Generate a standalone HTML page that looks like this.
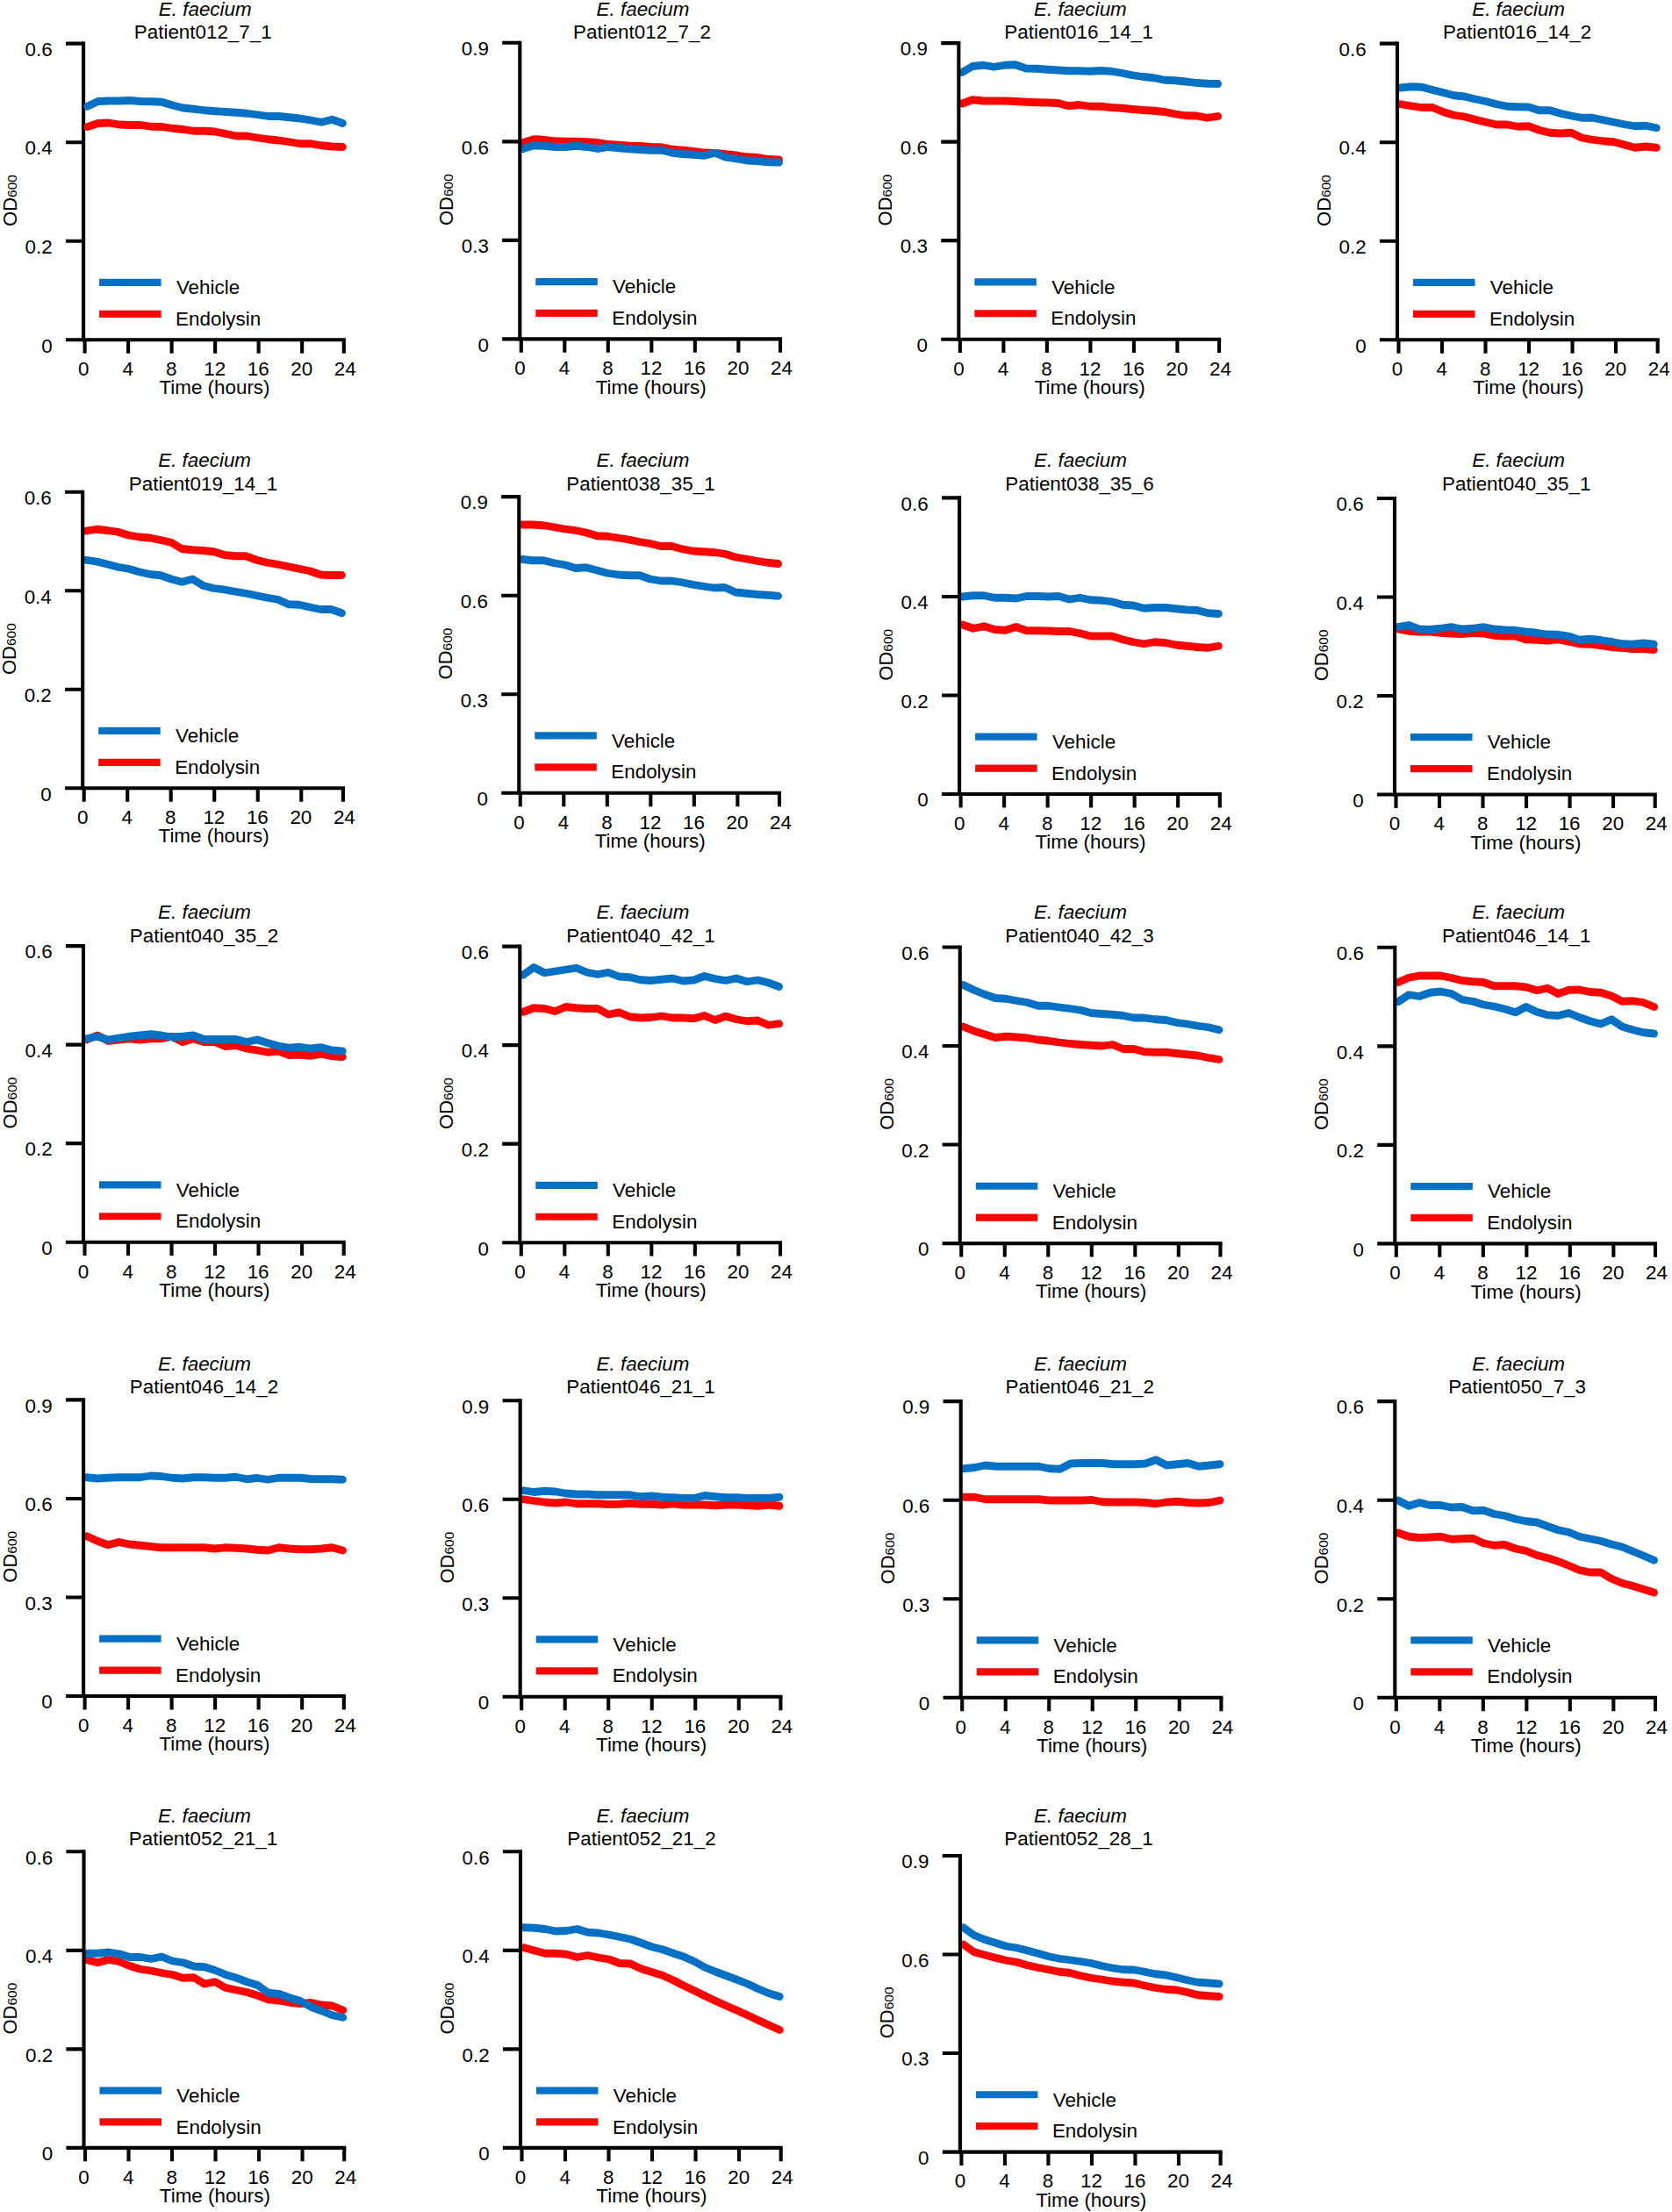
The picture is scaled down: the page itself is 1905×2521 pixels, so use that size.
<!DOCTYPE html>
<html lang="en"><head><meta charset="utf-8"><title>E. faecium growth curves</title>
<style>html,body{margin:0;padding:0;background:#fff}svg{display:block}text{white-space:pre}</style></head>
<body>
<svg width="1905" height="2521" viewBox="0 0 1905 2521" font-family="&quot;Liberation Sans&quot;, Arial, Helvetica, sans-serif" font-size="22.4" fill="#000">
<g>
<text x="233.75" y="17.5" text-anchor="middle" font-style="italic">E. faecium</text>
<text x="231.25" y="43.9" text-anchor="middle">Patient012_7_1</text>
<path d="M95.1 47.6V389.3" stroke="#000" stroke-width="4.1" fill="none"/>
<path d="M75 387.25H393.85" stroke="#000" stroke-width="4.1" fill="none"/>
<path d="M75 49.65H95.1M75 162.18H95.1M75 274.72H95.1M96.6 387.25V402.65M146.11 387.25V402.65M195.62 387.25V402.65M245.13 387.25V402.65M294.64 387.25V402.65M344.15 387.25V402.65M391.8 387.25V402.65" stroke="#000" stroke-width="4.1" fill="none"/>
<path d="M99.6 144.5 L111.72 140.5 L123.83 140 L135.95 142 L148.07 142.5 L160.18 142.5 L172.3 144.25 L184.42 144.5 L196.53 146.25 L208.65 147.5 L220.77 149.25 L232.88 149.25 L245 150 L257.12 152.5 L269.23 155 L281.35 155 L293.47 157 L305.58 158.75 L317.7 160 L329.82 161.75 L341.93 163.75 L354.05 163.75 L366.17 165.75 L378.28 167 L390.4 167.5" fill="none" stroke="#fb0404" stroke-width="8.8" stroke-linecap="round" stroke-linejoin="round"/>
<path d="M99.6 121.25 L111.72 115.5 L123.83 115 L135.95 115 L148.07 114.5 L160.18 115.5 L172.3 115.75 L184.42 116.25 L196.53 120 L208.65 123 L220.77 124.25 L232.88 125.75 L245 126.75 L257.12 127.5 L269.23 128.25 L281.35 129.25 L293.47 130.75 L305.58 132.5 L317.7 132.5 L329.82 133.75 L341.93 135 L354.05 137 L366.17 139.25 L378.28 136.25 L390.4 140.5" fill="none" stroke="#0570c4" stroke-width="8.8" stroke-linecap="round" stroke-linejoin="round"/>
<text x="59.7" y="63.95" text-anchor="end">0.6</text>
<text x="59.7" y="176.48" text-anchor="end">0.4</text>
<text x="59.7" y="289.02" text-anchor="end">0.2</text>
<text x="59.7" y="401.55" text-anchor="end">0</text>
<text x="95.2" y="428.05" text-anchor="middle">0</text>
<text x="145.71" y="428.05" text-anchor="middle">4</text>
<text x="195.22" y="428.05" text-anchor="middle">8</text>
<text x="244.73" y="428.05" text-anchor="middle">12</text>
<text x="294.24" y="428.05" text-anchor="middle">16</text>
<text x="343.75" y="428.05" text-anchor="middle">20</text>
<text x="393.26" y="428.05" text-anchor="middle">24</text>
<text x="244.5" y="449.35" text-anchor="middle">Time (hours)</text>
<text transform="translate(18.9 257.95) rotate(-90)" font-size="22">OD<tspan font-size="15.5">600</tspan></text>
<path d="M113.1 321.9H183.6" stroke="#0570c4" stroke-width="8.2" fill="none"/>
<path d="M113.1 357.8H183.6" stroke="#fb0404" stroke-width="8.2" fill="none"/>
<text x="200.9" y="335.15">Vehicle</text>
<text x="200.1" y="370.85">Endolysin</text>
</g>
<g>
<text x="732.5" y="17.5" text-anchor="middle" font-style="italic">E. faecium</text>
<text x="731.5" y="43.9" text-anchor="middle">Patient012_7_2</text>
<path d="M596 162.5 L608.15 158.75 L620.3 159.25 L632.45 160.75 L644.6 161.25 L656.75 161.25 L668.9 161.75 L681.05 162.5 L693.2 164.5 L705.35 165.25 L717.5 166.25 L729.65 166.5 L741.8 167.5 L753.95 167.75 L766.1 170.25 L778.25 171.25 L790.4 172.5 L802.55 174 L814.7 174.5 L826.85 175.75 L839 177 L851.15 178.75 L863.3 179.5 L875.45 181.5 L887.6 182" fill="none" stroke="#fb0404" stroke-width="8.8" stroke-linecap="round" stroke-linejoin="round"/>
<path d="M596 169.5 L608.15 165.75 L620.3 166.25 L632.45 167.5 L644.6 167.5 L656.75 166.25 L668.9 167.5 L681.05 169.5 L693.2 167.5 L705.35 168.75 L717.5 169.75 L729.65 170.5 L741.8 171.25 L753.95 171.25 L766.1 174.25 L778.25 175.5 L790.4 176.25 L802.55 177.25 L814.7 174.25 L826.85 179.25 L839 181 L851.15 183 L863.3 183.5 L875.45 184.75 L887.6 185" fill="none" stroke="#0570c4" stroke-width="8.8" stroke-linecap="round" stroke-linejoin="round"/>
<path d="M592.3 46.75V388.45" stroke="#000" stroke-width="4.1" fill="none"/>
<path d="M572.2 386.4H891.05" stroke="#000" stroke-width="4.1" fill="none"/>
<path d="M572.2 48.8H592.3M572.2 161.33H592.3M572.2 273.87H592.3M593.8 386.4V401.8M643.31 386.4V401.8M692.82 386.4V401.8M742.33 386.4V401.8M791.84 386.4V401.8M841.35 386.4V401.8M889 386.4V401.8" stroke="#000" stroke-width="4.1" fill="none"/>
<text x="556.9" y="63.1" text-anchor="end">0.9</text>
<text x="556.9" y="175.63" text-anchor="end">0.6</text>
<text x="556.9" y="288.17" text-anchor="end">0.3</text>
<text x="556.9" y="400.7" text-anchor="end">0</text>
<text x="592.4" y="427.2" text-anchor="middle">0</text>
<text x="642.91" y="427.2" text-anchor="middle">4</text>
<text x="692.42" y="427.2" text-anchor="middle">8</text>
<text x="741.93" y="427.2" text-anchor="middle">12</text>
<text x="791.44" y="427.2" text-anchor="middle">16</text>
<text x="840.95" y="427.2" text-anchor="middle">20</text>
<text x="890.46" y="427.2" text-anchor="middle">24</text>
<text x="741.7" y="448.5" text-anchor="middle">Time (hours)</text>
<text transform="translate(516.1 257.1) rotate(-90)" font-size="22">OD<tspan font-size="15.5">600</tspan></text>
<path d="M610.3 321.05H680.8" stroke="#0570c4" stroke-width="8.2" fill="none"/>
<path d="M610.3 356.95H680.8" stroke="#fb0404" stroke-width="8.2" fill="none"/>
<text x="698.1" y="334.3">Vehicle</text>
<text x="697.3" y="370">Endolysin</text>
</g>
<g>
<text x="1230.9" y="17.5" text-anchor="middle" font-style="italic">E. faecium</text>
<text x="1229" y="43.9" text-anchor="middle">Patient016_14_1</text>
<path d="M1096.05 118 L1108.2 113.75 L1120.35 115 L1132.5 115 L1144.65 115 L1156.8 115.5 L1168.95 116.25 L1181.1 116.75 L1193.25 117 L1205.4 117.5 L1217.55 120.75 L1229.7 119.5 L1241.85 121.25 L1254 121.25 L1266.15 122.5 L1278.3 123.25 L1290.45 124.5 L1302.6 125.5 L1314.75 126.25 L1326.9 127.5 L1339.05 130 L1351.2 131.75 L1363.35 132 L1375.5 134.25 L1387.65 132.5" fill="none" stroke="#fb0404" stroke-width="8.8" stroke-linecap="round" stroke-linejoin="round"/>
<path d="M1096.05 82.5 L1108.2 75.5 L1120.35 74.25 L1132.5 76.25 L1144.65 74.25 L1156.8 73.75 L1168.95 78 L1181.1 78.25 L1193.25 79.25 L1205.4 80 L1217.55 80.75 L1229.7 80.75 L1241.85 81.25 L1254 80.5 L1266.15 81.25 L1278.3 83.25 L1290.45 85.75 L1302.6 87.5 L1314.75 88.75 L1326.9 91.25 L1339.05 91.75 L1351.2 93 L1363.35 94.5 L1375.5 95.25 L1387.65 95.5" fill="none" stroke="#0570c4" stroke-width="8.8" stroke-linecap="round" stroke-linejoin="round"/>
<path d="M1092.35 47.05V388.75" stroke="#000" stroke-width="4.1" fill="none"/>
<path d="M1072.25 386.7H1391.1" stroke="#000" stroke-width="4.1" fill="none"/>
<path d="M1072.25 49.1H1092.35M1072.25 161.63H1092.35M1072.25 274.17H1092.35M1093.85 386.7V402.1M1143.36 386.7V402.1M1192.87 386.7V402.1M1242.38 386.7V402.1M1291.89 386.7V402.1M1341.4 386.7V402.1M1389.05 386.7V402.1" stroke="#000" stroke-width="4.1" fill="none"/>
<text x="1056.95" y="63.4" text-anchor="end">0.9</text>
<text x="1056.95" y="175.93" text-anchor="end">0.6</text>
<text x="1056.95" y="288.47" text-anchor="end">0.3</text>
<text x="1056.95" y="401" text-anchor="end">0</text>
<text x="1092.45" y="427.5" text-anchor="middle">0</text>
<text x="1142.96" y="427.5" text-anchor="middle">4</text>
<text x="1192.47" y="427.5" text-anchor="middle">8</text>
<text x="1241.98" y="427.5" text-anchor="middle">12</text>
<text x="1291.49" y="427.5" text-anchor="middle">16</text>
<text x="1341" y="427.5" text-anchor="middle">20</text>
<text x="1390.51" y="427.5" text-anchor="middle">24</text>
<text x="1241.75" y="448.8" text-anchor="middle">Time (hours)</text>
<text transform="translate(1016.15 257.4) rotate(-90)" font-size="22">OD<tspan font-size="15.5">600</tspan></text>
<path d="M1110.35 321.35H1180.85" stroke="#0570c4" stroke-width="8.2" fill="none"/>
<path d="M1110.35 357.25H1180.85" stroke="#fb0404" stroke-width="8.2" fill="none"/>
<text x="1198.15" y="334.6">Vehicle</text>
<text x="1197.35" y="370.3">Endolysin</text>
</g>
<g>
<text x="1730.1" y="17.5" text-anchor="middle" font-style="italic">E. faecium</text>
<text x="1728.6" y="43.9" text-anchor="middle">Patient016_14_2</text>
<path d="M1595.7 118.75 L1607.85 120.75 L1620 122.5 L1632.15 122.5 L1644.3 127.5 L1656.45 131.25 L1668.6 133 L1680.75 136.25 L1692.9 139.25 L1705.05 142 L1717.2 142 L1729.35 144.25 L1741.5 143.75 L1753.65 148.25 L1765.8 151.25 L1777.95 152 L1790.1 151.25 L1802.25 157 L1814.4 159.25 L1826.55 160.75 L1838.7 161.75 L1850.85 165 L1863 168.25 L1875.15 167 L1887.3 168.25" fill="none" stroke="#fb0404" stroke-width="8.8" stroke-linecap="round" stroke-linejoin="round"/>
<path d="M1595.7 100 L1607.85 98.75 L1620 99.25 L1632.15 102.5 L1644.3 105.5 L1656.45 108.75 L1668.6 110 L1680.75 113 L1692.9 115.5 L1705.05 118.75 L1717.2 121.25 L1729.35 121.75 L1741.5 122 L1753.65 125.75 L1765.8 125.75 L1777.95 129.25 L1790.1 132 L1802.25 134.25 L1814.4 134.25 L1826.55 136.75 L1838.7 139.25 L1850.85 141.75 L1863 143.75 L1875.15 143.25 L1887.3 145.75" fill="none" stroke="#0570c4" stroke-width="8.8" stroke-linecap="round" stroke-linejoin="round"/>
<path d="M1592 47.6V389.3" stroke="#000" stroke-width="4.1" fill="none"/>
<path d="M1571.9 387.25H1890.75" stroke="#000" stroke-width="4.1" fill="none"/>
<path d="M1571.9 49.65H1592M1571.9 162.18H1592M1571.9 274.72H1592M1593.5 387.25V402.65M1643.01 387.25V402.65M1692.52 387.25V402.65M1742.03 387.25V402.65M1791.54 387.25V402.65M1841.05 387.25V402.65M1888.7 387.25V402.65" stroke="#000" stroke-width="4.1" fill="none"/>
<text x="1556.6" y="63.95" text-anchor="end">0.6</text>
<text x="1556.6" y="176.48" text-anchor="end">0.4</text>
<text x="1556.6" y="289.02" text-anchor="end">0.2</text>
<text x="1556.6" y="401.55" text-anchor="end">0</text>
<text x="1592.1" y="428.05" text-anchor="middle">0</text>
<text x="1642.61" y="428.05" text-anchor="middle">4</text>
<text x="1692.12" y="428.05" text-anchor="middle">8</text>
<text x="1741.63" y="428.05" text-anchor="middle">12</text>
<text x="1791.14" y="428.05" text-anchor="middle">16</text>
<text x="1840.65" y="428.05" text-anchor="middle">20</text>
<text x="1890.16" y="428.05" text-anchor="middle">24</text>
<text x="1741.4" y="449.35" text-anchor="middle">Time (hours)</text>
<text transform="translate(1515.8 257.95) rotate(-90)" font-size="22">OD<tspan font-size="15.5">600</tspan></text>
<path d="M1610 321.9H1680.5" stroke="#0570c4" stroke-width="8.2" fill="none"/>
<path d="M1610 357.8H1680.5" stroke="#fb0404" stroke-width="8.2" fill="none"/>
<text x="1697.8" y="335.15">Vehicle</text>
<text x="1697" y="370.85">Endolysin</text>
</g>
<g>
<text x="233.1" y="532.4" text-anchor="middle" font-style="italic">E. faecium</text>
<text x="231.5" y="558.8" text-anchor="middle">Patient019_14_1</text>
<path d="M97.9 605 L110.05 603.25 L122.2 604.5 L134.35 606.25 L146.5 610 L158.65 612 L170.8 613 L182.95 615.5 L195.1 618.25 L207.25 625.5 L219.4 626.75 L231.55 627.5 L243.7 628.75 L255.85 632.5 L268 633.75 L280.15 633.75 L292.3 638.25 L304.45 641.25 L316.6 643.25 L328.75 645.75 L340.9 648.25 L353.05 650.75 L365.2 655 L377.35 655.5 L389.5 655.5" fill="none" stroke="#fb0404" stroke-width="8.8" stroke-linecap="round" stroke-linejoin="round"/>
<path d="M97.9 638.25 L110.05 640 L122.2 643 L134.35 646.25 L146.5 648.25 L158.65 651.75 L170.8 654.5 L182.95 655.75 L195.1 660 L207.25 663.25 L219.4 660 L231.55 667.5 L243.7 670.5 L255.85 672 L268 674.25 L280.15 676.25 L292.3 678.75 L304.45 681.25 L316.6 683.25 L328.75 688.75 L340.9 689.25 L353.05 692 L365.2 694.5 L377.35 694.5 L389.5 698.75" fill="none" stroke="#0570c4" stroke-width="8.8" stroke-linecap="round" stroke-linejoin="round"/>
<path d="M94.2 558.65V900.35" stroke="#000" stroke-width="4.1" fill="none"/>
<path d="M74.1 898.3H392.95" stroke="#000" stroke-width="4.1" fill="none"/>
<path d="M74.1 560.7H94.2M74.1 673.23H94.2M74.1 785.77H94.2M95.7 898.3V913.7M145.21 898.3V913.7M194.72 898.3V913.7M244.23 898.3V913.7M293.74 898.3V913.7M343.25 898.3V913.7M390.9 898.3V913.7" stroke="#000" stroke-width="4.1" fill="none"/>
<text x="58.8" y="575" text-anchor="end">0.6</text>
<text x="58.8" y="687.53" text-anchor="end">0.4</text>
<text x="58.8" y="800.07" text-anchor="end">0.2</text>
<text x="58.8" y="912.6" text-anchor="end">0</text>
<text x="94.3" y="939.1" text-anchor="middle">0</text>
<text x="144.81" y="939.1" text-anchor="middle">4</text>
<text x="194.32" y="939.1" text-anchor="middle">8</text>
<text x="243.83" y="939.1" text-anchor="middle">12</text>
<text x="293.34" y="939.1" text-anchor="middle">16</text>
<text x="342.85" y="939.1" text-anchor="middle">20</text>
<text x="392.36" y="939.1" text-anchor="middle">24</text>
<text x="243.6" y="960.4" text-anchor="middle">Time (hours)</text>
<text transform="translate(18 769) rotate(-90)" font-size="22">OD<tspan font-size="15.5">600</tspan></text>
<path d="M112.2 832.95H182.7" stroke="#0570c4" stroke-width="8.2" fill="none"/>
<path d="M112.2 868.85H182.7" stroke="#fb0404" stroke-width="8.2" fill="none"/>
<text x="200" y="846.2">Vehicle</text>
<text x="199.2" y="881.9">Endolysin</text>
</g>
<g>
<text x="732.5" y="532.4" text-anchor="middle" font-style="italic">E. faecium</text>
<text x="730" y="558.8" text-anchor="middle">Patient038_35_1</text>
<path d="M595 598 L607.15 598 L619.3 598.75 L631.45 600.75 L643.6 603 L655.75 604.5 L667.9 607 L680.05 610.75 L692.2 611.25 L704.35 613 L716.5 615 L728.65 617.5 L740.8 619.5 L752.95 622.5 L765.1 622.5 L777.25 625.75 L789.4 628 L801.55 628.75 L813.7 629.5 L825.85 631.25 L838 635 L850.15 637 L862.3 639.25 L874.45 641.25 L886.6 642.5" fill="none" stroke="#fb0404" stroke-width="8.8" stroke-linecap="round" stroke-linejoin="round"/>
<path d="M595 637.5 L607.15 638.75 L619.3 638.75 L631.45 641.75 L643.6 643.75 L655.75 647.5 L667.9 646.75 L680.05 650 L692.2 653.25 L704.35 655 L716.5 655.75 L728.65 655.75 L740.8 660 L752.95 662 L765.1 662 L777.25 663.75 L789.4 666.25 L801.55 668.25 L813.7 670 L825.85 669.5 L838 675 L850.15 676.25 L862.3 677.5 L874.45 678.25 L886.6 679.25" fill="none" stroke="#0570c4" stroke-width="8.8" stroke-linecap="round" stroke-linejoin="round"/>
<path d="M591.3 564.1V905.8" stroke="#000" stroke-width="4.1" fill="none"/>
<path d="M571.2 903.75H890.05" stroke="#000" stroke-width="4.1" fill="none"/>
<path d="M571.2 566.15H591.3M571.2 678.68H591.3M571.2 791.22H591.3M592.8 903.75V919.15M642.31 903.75V919.15M691.82 903.75V919.15M741.33 903.75V919.15M790.84 903.75V919.15M840.35 903.75V919.15M888 903.75V919.15" stroke="#000" stroke-width="4.1" fill="none"/>
<text x="555.9" y="580.45" text-anchor="end">0.9</text>
<text x="555.9" y="692.98" text-anchor="end">0.6</text>
<text x="555.9" y="805.52" text-anchor="end">0.3</text>
<text x="555.9" y="918.05" text-anchor="end">0</text>
<text x="591.4" y="944.55" text-anchor="middle">0</text>
<text x="641.91" y="944.55" text-anchor="middle">4</text>
<text x="691.42" y="944.55" text-anchor="middle">8</text>
<text x="740.93" y="944.55" text-anchor="middle">12</text>
<text x="790.44" y="944.55" text-anchor="middle">16</text>
<text x="839.95" y="944.55" text-anchor="middle">20</text>
<text x="889.46" y="944.55" text-anchor="middle">24</text>
<text x="740.7" y="965.85" text-anchor="middle">Time (hours)</text>
<text transform="translate(515.1 774.45) rotate(-90)" font-size="22">OD<tspan font-size="15.5">600</tspan></text>
<path d="M609.3 838.4H679.8" stroke="#0570c4" stroke-width="8.2" fill="none"/>
<path d="M609.3 874.3H679.8" stroke="#fb0404" stroke-width="8.2" fill="none"/>
<text x="697.1" y="851.65">Vehicle</text>
<text x="696.3" y="887.35">Endolysin</text>
</g>
<g>
<text x="1231" y="532.4" text-anchor="middle" font-style="italic">E. faecium</text>
<text x="1230" y="558.8" text-anchor="middle">Patient038_35_6</text>
<path d="M1096.8 712 L1108.95 716.25 L1121.1 713.75 L1133.25 717.5 L1145.4 718.25 L1157.55 714.5 L1169.7 718.75 L1181.85 718.75 L1194 719 L1206.15 719.5 L1218.3 719.5 L1230.45 721.75 L1242.6 725 L1254.75 725 L1266.9 725 L1279.05 728.75 L1291.2 731.75 L1303.35 733.75 L1315.5 731.75 L1327.65 732.5 L1339.8 735 L1351.95 736.25 L1364.1 737.5 L1376.25 738.25 L1388.4 736.25" fill="none" stroke="#fb0404" stroke-width="8.8" stroke-linecap="round" stroke-linejoin="round"/>
<path d="M1096.8 680 L1108.95 678.75 L1121.1 678.75 L1133.25 681.25 L1145.4 681.25 L1157.55 682 L1169.7 679.5 L1181.85 679.5 L1194 680 L1206.15 679.5 L1218.3 683 L1230.45 681.25 L1242.6 683.75 L1254.75 684.25 L1266.9 685.75 L1279.05 689.25 L1291.2 690 L1303.35 693.25 L1315.5 692.5 L1327.65 692.5 L1339.8 693.75 L1351.95 695 L1364.1 695.5 L1376.25 698.75 L1388.4 699.5" fill="none" stroke="#0570c4" stroke-width="8.8" stroke-linecap="round" stroke-linejoin="round"/>
<path d="M1093.1 565.35V907.05" stroke="#000" stroke-width="4.1" fill="none"/>
<path d="M1073 905H1391.85" stroke="#000" stroke-width="4.1" fill="none"/>
<path d="M1073 567.4H1093.1M1073 679.93H1093.1M1073 792.47H1093.1M1094.6 905V920.4M1144.11 905V920.4M1193.62 905V920.4M1243.13 905V920.4M1292.64 905V920.4M1342.15 905V920.4M1389.8 905V920.4" stroke="#000" stroke-width="4.1" fill="none"/>
<text x="1057.7" y="581.7" text-anchor="end">0.6</text>
<text x="1057.7" y="694.23" text-anchor="end">0.4</text>
<text x="1057.7" y="806.77" text-anchor="end">0.2</text>
<text x="1057.7" y="919.3" text-anchor="end">0</text>
<text x="1093.2" y="945.8" text-anchor="middle">0</text>
<text x="1143.71" y="945.8" text-anchor="middle">4</text>
<text x="1193.22" y="945.8" text-anchor="middle">8</text>
<text x="1242.73" y="945.8" text-anchor="middle">12</text>
<text x="1292.24" y="945.8" text-anchor="middle">16</text>
<text x="1341.75" y="945.8" text-anchor="middle">20</text>
<text x="1391.26" y="945.8" text-anchor="middle">24</text>
<text x="1242.5" y="967.1" text-anchor="middle">Time (hours)</text>
<text transform="translate(1016.9 775.7) rotate(-90)" font-size="22">OD<tspan font-size="15.5">600</tspan></text>
<path d="M1111.1 839.65H1181.6" stroke="#0570c4" stroke-width="8.2" fill="none"/>
<path d="M1111.1 875.55H1181.6" stroke="#fb0404" stroke-width="8.2" fill="none"/>
<text x="1198.9" y="852.9">Vehicle</text>
<text x="1198.1" y="888.6">Endolysin</text>
</g>
<g>
<text x="1730.1" y="532.4" text-anchor="middle" font-style="italic">E. faecium</text>
<text x="1727.75" y="558.8" text-anchor="middle">Patient040_35_1</text>
<path d="M1592.7 717 L1604.85 719.25 L1617 720 L1629.15 720 L1641.3 721.25 L1653.45 722 L1665.6 722.5 L1677.75 721.25 L1689.9 722 L1702.05 724.25 L1714.2 725 L1726.35 725 L1738.5 728.75 L1750.65 729.25 L1762.8 730 L1774.95 728.75 L1787.1 731.25 L1799.25 733.75 L1811.4 734.25 L1823.55 735.75 L1835.7 737.5 L1847.85 738.25 L1860 739.5 L1872.15 739.25 L1884.3 740.5" fill="none" stroke="#fb0404" stroke-width="8.8" stroke-linecap="round" stroke-linejoin="round"/>
<path d="M1592.7 714.5 L1604.85 712.5 L1617 717 L1629.15 717.5 L1641.3 716.25 L1653.45 714.5 L1665.6 717 L1677.75 716.25 L1689.9 714.5 L1702.05 717 L1714.2 718 L1726.35 718.25 L1738.5 720 L1750.65 721.25 L1762.8 723 L1774.95 723.25 L1787.1 725 L1799.25 729.25 L1811.4 728.25 L1823.55 729.5 L1835.7 731.25 L1847.85 733.75 L1860 734.25 L1872.15 733 L1884.3 734.25" fill="none" stroke="#0570c4" stroke-width="8.8" stroke-linecap="round" stroke-linejoin="round"/>
<path d="M1589 565.9V907.6" stroke="#000" stroke-width="4.1" fill="none"/>
<path d="M1568.9 905.55H1887.75" stroke="#000" stroke-width="4.1" fill="none"/>
<path d="M1568.9 567.95H1589M1568.9 680.48H1589M1568.9 793.02H1589M1590.5 905.55V920.95M1640.01 905.55V920.95M1689.52 905.55V920.95M1739.03 905.55V920.95M1788.54 905.55V920.95M1838.05 905.55V920.95M1885.7 905.55V920.95" stroke="#000" stroke-width="4.1" fill="none"/>
<text x="1553.6" y="582.25" text-anchor="end">0.6</text>
<text x="1553.6" y="694.78" text-anchor="end">0.4</text>
<text x="1553.6" y="807.32" text-anchor="end">0.2</text>
<text x="1553.6" y="919.85" text-anchor="end">0</text>
<text x="1589.1" y="946.35" text-anchor="middle">0</text>
<text x="1639.61" y="946.35" text-anchor="middle">4</text>
<text x="1689.12" y="946.35" text-anchor="middle">8</text>
<text x="1738.63" y="946.35" text-anchor="middle">12</text>
<text x="1788.14" y="946.35" text-anchor="middle">16</text>
<text x="1837.65" y="946.35" text-anchor="middle">20</text>
<text x="1887.16" y="946.35" text-anchor="middle">24</text>
<text x="1738.4" y="967.65" text-anchor="middle">Time (hours)</text>
<text transform="translate(1512.8 776.25) rotate(-90)" font-size="22">OD<tspan font-size="15.5">600</tspan></text>
<path d="M1607 840.2H1677.5" stroke="#0570c4" stroke-width="8.2" fill="none"/>
<path d="M1607 876.1H1677.5" stroke="#fb0404" stroke-width="8.2" fill="none"/>
<text x="1694.8" y="853.45">Vehicle</text>
<text x="1694" y="889.15">Endolysin</text>
</g>
<g>
<text x="233" y="1047.3" text-anchor="middle" font-style="italic">E. faecium</text>
<text x="232.5" y="1073.7" text-anchor="middle">Patient040_35_2</text>
<path d="M98.7 1185 L110.85 1180 L123 1186.25 L135.15 1185 L147.3 1183.75 L159.45 1185 L171.6 1183.75 L183.75 1183.75 L195.9 1181.25 L208.05 1187.5 L220.2 1183.75 L232.35 1187.5 L244.5 1187.5 L256.65 1192.5 L268.8 1191.25 L280.95 1195 L293.1 1197 L305.25 1199.25 L317.4 1198 L329.55 1202.5 L341.7 1202 L353.85 1203.25 L366 1201.25 L378.15 1203.75 L390.3 1204.5" fill="none" stroke="#fb0404" stroke-width="8.8" stroke-linecap="round" stroke-linejoin="round"/>
<path d="M98.7 1183.75 L110.85 1181.25 L123 1185 L135.15 1183 L147.3 1181.25 L159.45 1180 L171.6 1178.75 L183.75 1180 L195.9 1182 L208.05 1181.25 L220.2 1180 L232.35 1184.5 L244.5 1184.5 L256.65 1184.5 L268.8 1184.5 L280.95 1187.5 L293.1 1185 L305.25 1188.75 L317.4 1192 L329.55 1194.25 L341.7 1193.25 L353.85 1195 L366 1193.75 L378.15 1197 L390.3 1198" fill="none" stroke="#0570c4" stroke-width="8.8" stroke-linecap="round" stroke-linejoin="round"/>
<path d="M95 1076.05V1417.75" stroke="#000" stroke-width="4.1" fill="none"/>
<path d="M74.9 1415.7H393.75" stroke="#000" stroke-width="4.1" fill="none"/>
<path d="M74.9 1078.1H95M74.9 1190.63H95M74.9 1303.17H95M96.5 1415.7V1431.1M146.01 1415.7V1431.1M195.52 1415.7V1431.1M245.03 1415.7V1431.1M294.54 1415.7V1431.1M344.05 1415.7V1431.1M391.7 1415.7V1431.1" stroke="#000" stroke-width="4.1" fill="none"/>
<text x="59.6" y="1092.4" text-anchor="end">0.6</text>
<text x="59.6" y="1204.93" text-anchor="end">0.4</text>
<text x="59.6" y="1317.47" text-anchor="end">0.2</text>
<text x="59.6" y="1430" text-anchor="end">0</text>
<text x="95.1" y="1456.5" text-anchor="middle">0</text>
<text x="145.61" y="1456.5" text-anchor="middle">4</text>
<text x="195.12" y="1456.5" text-anchor="middle">8</text>
<text x="244.63" y="1456.5" text-anchor="middle">12</text>
<text x="294.14" y="1456.5" text-anchor="middle">16</text>
<text x="343.65" y="1456.5" text-anchor="middle">20</text>
<text x="393.16" y="1456.5" text-anchor="middle">24</text>
<text x="244.4" y="1477.8" text-anchor="middle">Time (hours)</text>
<text transform="translate(18.8 1286.4) rotate(-90)" font-size="22">OD<tspan font-size="15.5">600</tspan></text>
<path d="M113 1350.35H183.5" stroke="#0570c4" stroke-width="8.2" fill="none"/>
<path d="M113 1386.25H183.5" stroke="#fb0404" stroke-width="8.2" fill="none"/>
<text x="200.8" y="1363.6">Vehicle</text>
<text x="200" y="1399.3">Endolysin</text>
</g>
<g>
<text x="732.5" y="1047.3" text-anchor="middle" font-style="italic">E. faecium</text>
<text x="730" y="1073.7" text-anchor="middle">Patient040_42_1</text>
<path d="M596 1153.25 L608.15 1148.75 L620.3 1149.5 L632.45 1152.5 L644.6 1147.5 L656.75 1148.75 L668.9 1149.5 L681.05 1149.5 L693.2 1156.25 L705.35 1153.75 L717.5 1158.75 L729.65 1160 L741.8 1159.5 L753.95 1158 L766.1 1160 L778.25 1160 L790.4 1160.75 L802.55 1157.5 L814.7 1162.5 L826.85 1158.25 L839 1161.75 L851.15 1163.75 L863.3 1163 L875.45 1168.25 L887.6 1166.75" fill="none" stroke="#fb0404" stroke-width="8.8" stroke-linecap="round" stroke-linejoin="round"/>
<path d="M596 1111.25 L608.15 1102.5 L620.3 1108.75 L632.45 1107 L644.6 1105 L656.75 1103.25 L668.9 1108.25 L681.05 1110.5 L693.2 1108.25 L705.35 1113 L717.5 1113.75 L729.65 1116.75 L741.8 1117.5 L753.95 1116.25 L766.1 1115 L778.25 1118 L790.4 1117 L802.55 1112.5 L814.7 1115.5 L826.85 1117.5 L839 1115 L851.15 1118.75 L863.3 1117 L875.45 1120 L887.6 1124.5" fill="none" stroke="#0570c4" stroke-width="8.8" stroke-linecap="round" stroke-linejoin="round"/>
<path d="M592.3 1076.55V1418.25" stroke="#000" stroke-width="4.1" fill="none"/>
<path d="M572.2 1416.2H891.05" stroke="#000" stroke-width="4.1" fill="none"/>
<path d="M572.2 1078.6H592.3M572.2 1191.13H592.3M572.2 1303.67H592.3M593.8 1416.2V1431.6M643.31 1416.2V1431.6M692.82 1416.2V1431.6M742.33 1416.2V1431.6M791.84 1416.2V1431.6M841.35 1416.2V1431.6M889 1416.2V1431.6" stroke="#000" stroke-width="4.1" fill="none"/>
<text x="556.9" y="1092.9" text-anchor="end">0.6</text>
<text x="556.9" y="1205.43" text-anchor="end">0.4</text>
<text x="556.9" y="1317.97" text-anchor="end">0.2</text>
<text x="556.9" y="1430.5" text-anchor="end">0</text>
<text x="592.4" y="1457" text-anchor="middle">0</text>
<text x="642.91" y="1457" text-anchor="middle">4</text>
<text x="692.42" y="1457" text-anchor="middle">8</text>
<text x="741.93" y="1457" text-anchor="middle">12</text>
<text x="791.44" y="1457" text-anchor="middle">16</text>
<text x="840.95" y="1457" text-anchor="middle">20</text>
<text x="890.46" y="1457" text-anchor="middle">24</text>
<text x="741.7" y="1478.3" text-anchor="middle">Time (hours)</text>
<text transform="translate(516.1 1286.9) rotate(-90)" font-size="22">OD<tspan font-size="15.5">600</tspan></text>
<path d="M610.3 1350.85H680.8" stroke="#0570c4" stroke-width="8.2" fill="none"/>
<path d="M610.3 1386.75H680.8" stroke="#fb0404" stroke-width="8.2" fill="none"/>
<text x="698.1" y="1364.1">Vehicle</text>
<text x="697.3" y="1399.8">Endolysin</text>
</g>
<g>
<text x="1231" y="1047.3" text-anchor="middle" font-style="italic">E. faecium</text>
<text x="1230" y="1073.7" text-anchor="middle">Patient040_42_3</text>
<path d="M1097.45 1170 L1109.6 1175 L1121.75 1178.75 L1133.9 1182.5 L1146.05 1181.25 L1158.2 1182 L1170.35 1183 L1182.5 1185 L1194.65 1186.25 L1206.8 1188 L1218.95 1189.5 L1231.1 1190.5 L1243.25 1191.25 L1255.4 1192 L1267.55 1190.5 L1279.7 1195.5 L1291.85 1195.5 L1304 1198.75 L1316.15 1199.25 L1328.3 1199.25 L1340.45 1200.5 L1352.6 1201.75 L1364.75 1203 L1376.9 1205.5 L1389.05 1207.5" fill="none" stroke="#fb0404" stroke-width="8.8" stroke-linecap="round" stroke-linejoin="round"/>
<path d="M1097.45 1122.5 L1109.6 1128.25 L1121.75 1133.25 L1133.9 1137.5 L1146.05 1138.25 L1158.2 1140.5 L1170.35 1142.5 L1182.5 1146.25 L1194.65 1146.25 L1206.8 1148 L1218.95 1149.5 L1231.1 1151.25 L1243.25 1154.5 L1255.4 1155.5 L1267.55 1156.25 L1279.7 1157.5 L1291.85 1160 L1304 1160 L1316.15 1161.75 L1328.3 1162.5 L1340.45 1165.5 L1352.6 1167 L1364.75 1169.25 L1376.9 1170.75 L1389.05 1173.75" fill="none" stroke="#0570c4" stroke-width="8.8" stroke-linecap="round" stroke-linejoin="round"/>
<path d="M1093.75 1077.45V1419.15" stroke="#000" stroke-width="4.1" fill="none"/>
<path d="M1073.65 1417.1H1392.5" stroke="#000" stroke-width="4.1" fill="none"/>
<path d="M1073.65 1079.5H1093.75M1073.65 1192.03H1093.75M1073.65 1304.57H1093.75M1095.25 1417.1V1432.5M1144.76 1417.1V1432.5M1194.27 1417.1V1432.5M1243.78 1417.1V1432.5M1293.29 1417.1V1432.5M1342.8 1417.1V1432.5M1390.45 1417.1V1432.5" stroke="#000" stroke-width="4.1" fill="none"/>
<text x="1058.35" y="1093.8" text-anchor="end">0.6</text>
<text x="1058.35" y="1206.33" text-anchor="end">0.4</text>
<text x="1058.35" y="1318.87" text-anchor="end">0.2</text>
<text x="1058.35" y="1431.4" text-anchor="end">0</text>
<text x="1093.85" y="1457.9" text-anchor="middle">0</text>
<text x="1144.36" y="1457.9" text-anchor="middle">4</text>
<text x="1193.87" y="1457.9" text-anchor="middle">8</text>
<text x="1243.38" y="1457.9" text-anchor="middle">12</text>
<text x="1292.89" y="1457.9" text-anchor="middle">16</text>
<text x="1342.4" y="1457.9" text-anchor="middle">20</text>
<text x="1391.91" y="1457.9" text-anchor="middle">24</text>
<text x="1243.15" y="1479.2" text-anchor="middle">Time (hours)</text>
<text transform="translate(1017.55 1287.8) rotate(-90)" font-size="22">OD<tspan font-size="15.5">600</tspan></text>
<path d="M1111.75 1351.75H1182.25" stroke="#0570c4" stroke-width="8.2" fill="none"/>
<path d="M1111.75 1387.65H1182.25" stroke="#fb0404" stroke-width="8.2" fill="none"/>
<text x="1199.55" y="1365">Vehicle</text>
<text x="1198.75" y="1400.7">Endolysin</text>
</g>
<g>
<text x="1730.1" y="1047.3" text-anchor="middle" font-style="italic">E. faecium</text>
<text x="1727.75" y="1073.7" text-anchor="middle">Patient046_14_1</text>
<path d="M1593 1119.5 L1605.15 1114.25 L1617.3 1112 L1629.45 1112 L1641.6 1112 L1653.75 1114.5 L1665.9 1117.5 L1678.05 1118.75 L1690.2 1119.5 L1702.35 1123.75 L1714.5 1123.75 L1726.65 1123.75 L1738.8 1125 L1750.95 1128.75 L1763.1 1126.25 L1775.25 1132.5 L1787.4 1128.25 L1799.55 1128 L1811.7 1130.5 L1823.85 1131.25 L1836 1135 L1848.15 1141.25 L1860.3 1140.75 L1872.45 1142.5 L1884.6 1147.5" fill="none" stroke="#fb0404" stroke-width="8.8" stroke-linecap="round" stroke-linejoin="round"/>
<path d="M1593 1141.75 L1605.15 1133.75 L1617.3 1135.5 L1629.45 1131.25 L1641.6 1130 L1653.75 1132.5 L1665.9 1139.25 L1678.05 1141.25 L1690.2 1145 L1702.35 1147 L1714.5 1150 L1726.65 1153.75 L1738.8 1147.5 L1750.95 1153.25 L1763.1 1156.75 L1775.25 1157.5 L1787.4 1154.5 L1799.55 1159.5 L1811.7 1163.75 L1823.85 1167 L1836 1161.75 L1848.15 1170 L1860.3 1173.75 L1872.45 1176.75 L1884.6 1178" fill="none" stroke="#0570c4" stroke-width="8.8" stroke-linecap="round" stroke-linejoin="round"/>
<path d="M1589.3 1077.75V1419.45" stroke="#000" stroke-width="4.1" fill="none"/>
<path d="M1569.2 1417.4H1888.05" stroke="#000" stroke-width="4.1" fill="none"/>
<path d="M1569.2 1079.8H1589.3M1569.2 1192.33H1589.3M1569.2 1304.87H1589.3M1590.8 1417.4V1432.8M1640.31 1417.4V1432.8M1689.82 1417.4V1432.8M1739.33 1417.4V1432.8M1788.84 1417.4V1432.8M1838.35 1417.4V1432.8M1886 1417.4V1432.8" stroke="#000" stroke-width="4.1" fill="none"/>
<text x="1553.9" y="1094.1" text-anchor="end">0.6</text>
<text x="1553.9" y="1206.63" text-anchor="end">0.4</text>
<text x="1553.9" y="1319.17" text-anchor="end">0.2</text>
<text x="1553.9" y="1431.7" text-anchor="end">0</text>
<text x="1589.4" y="1458.2" text-anchor="middle">0</text>
<text x="1639.91" y="1458.2" text-anchor="middle">4</text>
<text x="1689.42" y="1458.2" text-anchor="middle">8</text>
<text x="1738.93" y="1458.2" text-anchor="middle">12</text>
<text x="1788.44" y="1458.2" text-anchor="middle">16</text>
<text x="1837.95" y="1458.2" text-anchor="middle">20</text>
<text x="1887.46" y="1458.2" text-anchor="middle">24</text>
<text x="1738.7" y="1479.5" text-anchor="middle">Time (hours)</text>
<text transform="translate(1513.1 1288.1) rotate(-90)" font-size="22">OD<tspan font-size="15.5">600</tspan></text>
<path d="M1607.3 1352.05H1677.8" stroke="#0570c4" stroke-width="8.2" fill="none"/>
<path d="M1607.3 1387.95H1677.8" stroke="#fb0404" stroke-width="8.2" fill="none"/>
<text x="1695.1" y="1365.3">Vehicle</text>
<text x="1694.3" y="1401">Endolysin</text>
</g>
<g>
<text x="233" y="1562" text-anchor="middle" font-style="italic">E. faecium</text>
<text x="232.5" y="1588.4" text-anchor="middle">Patient046_14_2</text>
<path d="M98.8 1750.75 L110.95 1756.25 L123.1 1760.75 L135.25 1757.5 L147.4 1760 L159.55 1761.25 L171.7 1762.5 L183.85 1763.75 L196 1763.75 L208.15 1763.75 L220.3 1763.75 L232.45 1763.75 L244.6 1765 L256.75 1763.75 L268.9 1764.25 L281.05 1765 L293.2 1766.25 L305.35 1767 L317.5 1763.75 L329.65 1765 L341.8 1765.75 L353.95 1765.75 L366.1 1765 L378.25 1763.75 L390.4 1767" fill="none" stroke="#fb0404" stroke-width="8.8" stroke-linecap="round" stroke-linejoin="round"/>
<path d="M98.8 1683.75 L110.95 1685 L123.1 1684.25 L135.25 1683.75 L147.4 1683.75 L159.55 1683.75 L171.7 1682 L183.85 1682.5 L196 1684.25 L208.15 1685 L220.3 1683.75 L232.45 1683.75 L244.6 1684.25 L256.75 1684.25 L268.9 1683.25 L281.05 1685.75 L293.2 1684.5 L305.35 1686.25 L317.5 1684.25 L329.65 1684.25 L341.8 1684.25 L353.95 1685.5 L366.1 1685.75 L378.25 1685.75 L390.4 1686.25" fill="none" stroke="#0570c4" stroke-width="8.8" stroke-linecap="round" stroke-linejoin="round"/>
<path d="M95.1 1593.35V1935.05" stroke="#000" stroke-width="4.1" fill="none"/>
<path d="M75 1933H393.85" stroke="#000" stroke-width="4.1" fill="none"/>
<path d="M75 1595.4H95.1M75 1707.93H95.1M75 1820.47H95.1M96.6 1933V1948.4M146.11 1933V1948.4M195.62 1933V1948.4M245.13 1933V1948.4M294.64 1933V1948.4M344.15 1933V1948.4M391.8 1933V1948.4" stroke="#000" stroke-width="4.1" fill="none"/>
<text x="59.7" y="1609.7" text-anchor="end">0.9</text>
<text x="59.7" y="1722.23" text-anchor="end">0.6</text>
<text x="59.7" y="1834.77" text-anchor="end">0.3</text>
<text x="59.7" y="1947.3" text-anchor="end">0</text>
<text x="95.2" y="1973.8" text-anchor="middle">0</text>
<text x="145.71" y="1973.8" text-anchor="middle">4</text>
<text x="195.22" y="1973.8" text-anchor="middle">8</text>
<text x="244.73" y="1973.8" text-anchor="middle">12</text>
<text x="294.24" y="1973.8" text-anchor="middle">16</text>
<text x="343.75" y="1973.8" text-anchor="middle">20</text>
<text x="393.26" y="1973.8" text-anchor="middle">24</text>
<text x="244.5" y="1995.1" text-anchor="middle">Time (hours)</text>
<text transform="translate(18.9 1803.7) rotate(-90)" font-size="22">OD<tspan font-size="15.5">600</tspan></text>
<path d="M113.1 1867.65H183.6" stroke="#0570c4" stroke-width="8.2" fill="none"/>
<path d="M113.1 1903.55H183.6" stroke="#fb0404" stroke-width="8.2" fill="none"/>
<text x="200.9" y="1880.9">Vehicle</text>
<text x="200.1" y="1916.6">Endolysin</text>
</g>
<g>
<text x="732.5" y="1562" text-anchor="middle" font-style="italic">E. faecium</text>
<text x="730" y="1588.4" text-anchor="middle">Patient046_21_1</text>
<path d="M596.4 1708.75 L608.55 1710.5 L620.7 1712 L632.85 1713 L645 1712 L657.15 1713.75 L669.3 1713.75 L681.45 1713.75 L693.6 1714.5 L705.75 1714.25 L717.9 1713.25 L730.05 1714.25 L742.2 1714.25 L754.35 1715 L766.5 1713.75 L778.65 1715 L790.8 1715 L802.95 1715 L815.1 1715.75 L827.25 1715 L839.4 1715 L851.55 1715.5 L863.7 1716.25 L875.85 1715 L888 1716.25" fill="none" stroke="#fb0404" stroke-width="8.8" stroke-linecap="round" stroke-linejoin="round"/>
<path d="M596.4 1698.75 L608.55 1700.5 L620.7 1699.25 L632.85 1700 L645 1702 L657.15 1703 L669.3 1703 L681.45 1703.75 L693.6 1703.75 L705.75 1703.75 L717.9 1703.75 L730.05 1705.75 L742.2 1705 L754.35 1706.25 L766.5 1706.75 L778.65 1707.5 L790.8 1707.5 L802.95 1704.5 L815.1 1705.75 L827.25 1706.75 L839.4 1706.75 L851.55 1707.5 L863.7 1707.5 L875.85 1707.5 L888 1706.25" fill="none" stroke="#0570c4" stroke-width="8.8" stroke-linecap="round" stroke-linejoin="round"/>
<path d="M592.7 1594.15V1935.85" stroke="#000" stroke-width="4.1" fill="none"/>
<path d="M572.6 1933.8H891.45" stroke="#000" stroke-width="4.1" fill="none"/>
<path d="M572.6 1596.2H592.7M572.6 1708.73H592.7M572.6 1821.27H592.7M594.2 1933.8V1949.2M643.71 1933.8V1949.2M693.22 1933.8V1949.2M742.73 1933.8V1949.2M792.24 1933.8V1949.2M841.75 1933.8V1949.2M889.4 1933.8V1949.2" stroke="#000" stroke-width="4.1" fill="none"/>
<text x="557.3" y="1610.5" text-anchor="end">0.9</text>
<text x="557.3" y="1723.03" text-anchor="end">0.6</text>
<text x="557.3" y="1835.57" text-anchor="end">0.3</text>
<text x="557.3" y="1948.1" text-anchor="end">0</text>
<text x="592.8" y="1974.6" text-anchor="middle">0</text>
<text x="643.31" y="1974.6" text-anchor="middle">4</text>
<text x="692.82" y="1974.6" text-anchor="middle">8</text>
<text x="742.33" y="1974.6" text-anchor="middle">12</text>
<text x="791.84" y="1974.6" text-anchor="middle">16</text>
<text x="841.35" y="1974.6" text-anchor="middle">20</text>
<text x="890.86" y="1974.6" text-anchor="middle">24</text>
<text x="742.1" y="1995.9" text-anchor="middle">Time (hours)</text>
<text transform="translate(516.5 1804.5) rotate(-90)" font-size="22">OD<tspan font-size="15.5">600</tspan></text>
<path d="M610.7 1868.45H681.2" stroke="#0570c4" stroke-width="8.2" fill="none"/>
<path d="M610.7 1904.35H681.2" stroke="#fb0404" stroke-width="8.2" fill="none"/>
<text x="698.5" y="1881.7">Vehicle</text>
<text x="697.7" y="1917.4">Endolysin</text>
</g>
<g>
<text x="1231" y="1562" text-anchor="middle" font-style="italic">E. faecium</text>
<text x="1230.25" y="1588.4" text-anchor="middle">Patient046_21_2</text>
<path d="M1098.4 1706.25 L1110.55 1706.25 L1122.7 1708.75 L1134.85 1708.75 L1147 1708.75 L1159.15 1708.75 L1171.3 1708.75 L1183.45 1708.75 L1195.6 1710 L1207.75 1710 L1219.9 1710 L1232.05 1710 L1244.2 1709.5 L1256.35 1711.75 L1268.5 1712 L1280.65 1712 L1292.8 1712 L1304.95 1712.5 L1317.1 1713.75 L1329.25 1712 L1341.4 1711.25 L1353.55 1712.5 L1365.7 1713 L1377.85 1712.5 L1390 1710" fill="none" stroke="#fb0404" stroke-width="8.8" stroke-linecap="round" stroke-linejoin="round"/>
<path d="M1098.4 1673.75 L1110.55 1672.5 L1122.7 1670 L1134.85 1671.25 L1147 1671.25 L1159.15 1671.25 L1171.3 1671.25 L1183.45 1671.25 L1195.6 1673.75 L1207.75 1674.25 L1219.9 1668 L1232.05 1667.5 L1244.2 1667.5 L1256.35 1667.5 L1268.5 1668.75 L1280.65 1668.75 L1292.8 1668.75 L1304.95 1668 L1317.1 1663.75 L1329.25 1670 L1341.4 1668.75 L1353.55 1667.5 L1365.7 1671.25 L1377.85 1670 L1390 1668.75" fill="none" stroke="#0570c4" stroke-width="8.8" stroke-linecap="round" stroke-linejoin="round"/>
<path d="M1094.7 1595.1V1936.8" stroke="#000" stroke-width="4.1" fill="none"/>
<path d="M1074.6 1934.75H1393.45" stroke="#000" stroke-width="4.1" fill="none"/>
<path d="M1074.6 1597.15H1094.7M1074.6 1709.68H1094.7M1074.6 1822.22H1094.7M1096.2 1934.75V1950.15M1145.71 1934.75V1950.15M1195.22 1934.75V1950.15M1244.73 1934.75V1950.15M1294.24 1934.75V1950.15M1343.75 1934.75V1950.15M1391.4 1934.75V1950.15" stroke="#000" stroke-width="4.1" fill="none"/>
<text x="1059.3" y="1611.45" text-anchor="end">0.9</text>
<text x="1059.3" y="1723.98" text-anchor="end">0.6</text>
<text x="1059.3" y="1836.52" text-anchor="end">0.3</text>
<text x="1059.3" y="1949.05" text-anchor="end">0</text>
<text x="1094.8" y="1975.55" text-anchor="middle">0</text>
<text x="1145.31" y="1975.55" text-anchor="middle">4</text>
<text x="1194.82" y="1975.55" text-anchor="middle">8</text>
<text x="1244.33" y="1975.55" text-anchor="middle">12</text>
<text x="1293.84" y="1975.55" text-anchor="middle">16</text>
<text x="1343.35" y="1975.55" text-anchor="middle">20</text>
<text x="1392.86" y="1975.55" text-anchor="middle">24</text>
<text x="1244.1" y="1996.85" text-anchor="middle">Time (hours)</text>
<text transform="translate(1018.5 1805.45) rotate(-90)" font-size="22">OD<tspan font-size="15.5">600</tspan></text>
<path d="M1112.7 1869.4H1183.2" stroke="#0570c4" stroke-width="8.2" fill="none"/>
<path d="M1112.7 1905.3H1183.2" stroke="#fb0404" stroke-width="8.2" fill="none"/>
<text x="1200.5" y="1882.65">Vehicle</text>
<text x="1199.7" y="1918.35">Endolysin</text>
</g>
<g>
<text x="1730.1" y="1562" text-anchor="middle" font-style="italic">E. faecium</text>
<text x="1728.6" y="1588.4" text-anchor="middle">Patient050_7_3</text>
<path d="M1593 1747 L1605.15 1751.25 L1617.3 1752.5 L1629.45 1752 L1641.6 1751.25 L1653.75 1754.25 L1665.9 1753.75 L1678.05 1753.25 L1690.2 1758.75 L1702.35 1761.25 L1714.5 1760.5 L1726.65 1765 L1738.8 1767.5 L1750.95 1772.5 L1763.1 1775.5 L1775.25 1779.5 L1787.4 1784.25 L1799.55 1789.5 L1811.7 1792 L1823.85 1792 L1836 1799.25 L1848.15 1804.25 L1860.3 1807.5 L1872.45 1811.25 L1884.6 1815" fill="none" stroke="#fb0404" stroke-width="8.8" stroke-linecap="round" stroke-linejoin="round"/>
<path d="M1593 1710 L1605.15 1716.25 L1617.3 1712.5 L1629.45 1715.5 L1641.6 1715.5 L1653.75 1718 L1665.9 1717.5 L1678.05 1721.75 L1690.2 1721.25 L1702.35 1725.5 L1714.5 1727.5 L1726.65 1731.25 L1738.8 1733.75 L1750.95 1735 L1763.1 1739.5 L1775.25 1743.75 L1787.4 1746.25 L1799.55 1751.25 L1811.7 1753.75 L1823.85 1756.25 L1836 1760 L1848.15 1763 L1860.3 1768 L1872.45 1773 L1884.6 1778.25" fill="none" stroke="#0570c4" stroke-width="8.8" stroke-linecap="round" stroke-linejoin="round"/>
<path d="M1589.3 1595.1V1936.8" stroke="#000" stroke-width="4.1" fill="none"/>
<path d="M1569.2 1934.75H1888.05" stroke="#000" stroke-width="4.1" fill="none"/>
<path d="M1569.2 1597.15H1589.3M1569.2 1709.68H1589.3M1569.2 1822.22H1589.3M1590.8 1934.75V1950.15M1640.31 1934.75V1950.15M1689.82 1934.75V1950.15M1739.33 1934.75V1950.15M1788.84 1934.75V1950.15M1838.35 1934.75V1950.15M1886 1934.75V1950.15" stroke="#000" stroke-width="4.1" fill="none"/>
<text x="1553.9" y="1611.45" text-anchor="end">0.6</text>
<text x="1553.9" y="1723.98" text-anchor="end">0.4</text>
<text x="1553.9" y="1836.52" text-anchor="end">0.2</text>
<text x="1553.9" y="1949.05" text-anchor="end">0</text>
<text x="1589.4" y="1975.55" text-anchor="middle">0</text>
<text x="1639.91" y="1975.55" text-anchor="middle">4</text>
<text x="1689.42" y="1975.55" text-anchor="middle">8</text>
<text x="1738.93" y="1975.55" text-anchor="middle">12</text>
<text x="1788.44" y="1975.55" text-anchor="middle">16</text>
<text x="1837.95" y="1975.55" text-anchor="middle">20</text>
<text x="1887.46" y="1975.55" text-anchor="middle">24</text>
<text x="1738.7" y="1996.85" text-anchor="middle">Time (hours)</text>
<text transform="translate(1513.1 1805.45) rotate(-90)" font-size="22">OD<tspan font-size="15.5">600</tspan></text>
<path d="M1607.3 1869.4H1677.8" stroke="#0570c4" stroke-width="8.2" fill="none"/>
<path d="M1607.3 1905.3H1677.8" stroke="#fb0404" stroke-width="8.2" fill="none"/>
<text x="1695.1" y="1882.65">Vehicle</text>
<text x="1694.3" y="1918.35">Endolysin</text>
</g>
<g>
<text x="233" y="2076.75" text-anchor="middle" font-style="italic">E. faecium</text>
<text x="231.5" y="2103.15" text-anchor="middle">Patient052_21_1</text>
<path d="M99.2 2233.75 L111.35 2236.75 L123.5 2233.5 L135.65 2235.5 L147.8 2240.5 L159.95 2244.25 L172.1 2246 L184.25 2248.5 L196.4 2250.5 L208.55 2254.25 L220.7 2253.75 L232.85 2261 L245 2258.75 L257.15 2265.5 L269.3 2268 L281.45 2270.5 L293.6 2274.25 L305.75 2278.75 L317.9 2280 L330.05 2282.25 L342.2 2283.5 L354.35 2282.5 L366.5 2285 L378.65 2286 L390.8 2291" fill="none" stroke="#fb0404" stroke-width="8.8" stroke-linecap="round" stroke-linejoin="round"/>
<path d="M99.2 2226.25 L111.35 2226.25 L123.5 2225 L135.65 2226.75 L147.8 2230.5 L159.95 2230.5 L172.1 2232.5 L184.25 2230 L196.4 2235 L208.55 2236.75 L220.7 2241 L232.85 2241.75 L245 2245.5 L257.15 2250.5 L269.3 2254.25 L281.45 2258.75 L293.6 2262.5 L305.75 2271.25 L317.9 2272.5 L330.05 2276.75 L342.2 2280.5 L354.35 2287.25 L366.5 2291.75 L378.65 2296.75 L390.8 2299.25" fill="none" stroke="#0570c4" stroke-width="8.8" stroke-linecap="round" stroke-linejoin="round"/>
<path d="M95.5 2108.25V2449.95" stroke="#000" stroke-width="4.1" fill="none"/>
<path d="M75.4 2447.9H394.25" stroke="#000" stroke-width="4.1" fill="none"/>
<path d="M75.4 2110.3H95.5M75.4 2222.83H95.5M75.4 2335.37H95.5M97 2447.9V2463.3M146.51 2447.9V2463.3M196.02 2447.9V2463.3M245.53 2447.9V2463.3M295.04 2447.9V2463.3M344.55 2447.9V2463.3M392.2 2447.9V2463.3" stroke="#000" stroke-width="4.1" fill="none"/>
<text x="60.1" y="2124.6" text-anchor="end">0.6</text>
<text x="60.1" y="2237.13" text-anchor="end">0.4</text>
<text x="60.1" y="2349.67" text-anchor="end">0.2</text>
<text x="60.1" y="2462.2" text-anchor="end">0</text>
<text x="95.6" y="2488.7" text-anchor="middle">0</text>
<text x="146.11" y="2488.7" text-anchor="middle">4</text>
<text x="195.62" y="2488.7" text-anchor="middle">8</text>
<text x="245.13" y="2488.7" text-anchor="middle">12</text>
<text x="294.64" y="2488.7" text-anchor="middle">16</text>
<text x="344.15" y="2488.7" text-anchor="middle">20</text>
<text x="393.66" y="2488.7" text-anchor="middle">24</text>
<text x="244.9" y="2510" text-anchor="middle">Time (hours)</text>
<text transform="translate(19.3 2318.6) rotate(-90)" font-size="22">OD<tspan font-size="15.5">600</tspan></text>
<path d="M113.5 2382.55H184" stroke="#0570c4" stroke-width="8.2" fill="none"/>
<path d="M113.5 2418.45H184" stroke="#fb0404" stroke-width="8.2" fill="none"/>
<text x="201.3" y="2395.8">Vehicle</text>
<text x="200.5" y="2431.5">Endolysin</text>
</g>
<g>
<text x="732.5" y="2076.75" text-anchor="middle" font-style="italic">E. faecium</text>
<text x="731" y="2103.15" text-anchor="middle">Patient052_21_2</text>
<path d="M596.7 2219.75 L608.85 2223 L621 2226.25 L633.15 2226.25 L645.3 2227.25 L657.45 2230.5 L669.6 2228.5 L681.75 2231 L693.9 2233 L706.05 2237.5 L718.2 2238 L730.35 2243.75 L742.5 2247.5 L754.65 2251.25 L766.8 2256.75 L778.95 2263 L791.1 2268.75 L803.25 2274.75 L815.4 2280.5 L827.55 2286 L839.7 2291.25 L851.85 2296.75 L864 2302.5 L876.15 2308 L888.3 2313.5" fill="none" stroke="#fb0404" stroke-width="8.8" stroke-linecap="round" stroke-linejoin="round"/>
<path d="M596.7 2196.75 L608.85 2197.25 L621 2198.5 L633.15 2201 L645.3 2200.5 L657.45 2198.5 L669.6 2202.25 L681.75 2203 L693.9 2205 L706.05 2207.5 L718.2 2210 L730.35 2214.25 L742.5 2218.75 L754.65 2221.75 L766.8 2226 L778.95 2230 L791.1 2235.5 L803.25 2242.25 L815.4 2247.25 L827.55 2251.75 L839.7 2256.25 L851.85 2261 L864 2266.75 L876.15 2271.75 L888.3 2275.5" fill="none" stroke="#0570c4" stroke-width="8.8" stroke-linecap="round" stroke-linejoin="round"/>
<path d="M593 2108.25V2449.95" stroke="#000" stroke-width="4.1" fill="none"/>
<path d="M572.9 2447.9H891.75" stroke="#000" stroke-width="4.1" fill="none"/>
<path d="M572.9 2110.3H593M572.9 2222.83H593M572.9 2335.37H593M594.5 2447.9V2463.3M644.01 2447.9V2463.3M693.52 2447.9V2463.3M743.03 2447.9V2463.3M792.54 2447.9V2463.3M842.05 2447.9V2463.3M889.7 2447.9V2463.3" stroke="#000" stroke-width="4.1" fill="none"/>
<text x="557.6" y="2124.6" text-anchor="end">0.6</text>
<text x="557.6" y="2237.13" text-anchor="end">0.4</text>
<text x="557.6" y="2349.67" text-anchor="end">0.2</text>
<text x="557.6" y="2462.2" text-anchor="end">0</text>
<text x="593.1" y="2488.7" text-anchor="middle">0</text>
<text x="643.61" y="2488.7" text-anchor="middle">4</text>
<text x="693.12" y="2488.7" text-anchor="middle">8</text>
<text x="742.63" y="2488.7" text-anchor="middle">12</text>
<text x="792.14" y="2488.7" text-anchor="middle">16</text>
<text x="841.65" y="2488.7" text-anchor="middle">20</text>
<text x="891.16" y="2488.7" text-anchor="middle">24</text>
<text x="742.4" y="2510" text-anchor="middle">Time (hours)</text>
<text transform="translate(516.8 2318.6) rotate(-90)" font-size="22">OD<tspan font-size="15.5">600</tspan></text>
<path d="M611 2382.55H681.5" stroke="#0570c4" stroke-width="8.2" fill="none"/>
<path d="M611 2418.45H681.5" stroke="#fb0404" stroke-width="8.2" fill="none"/>
<text x="698.8" y="2395.8">Vehicle</text>
<text x="698" y="2431.5">Endolysin</text>
</g>
<g>
<text x="1231" y="2076.75" text-anchor="middle" font-style="italic">E. faecium</text>
<text x="1229" y="2103.15" text-anchor="middle">Patient052_28_1</text>
<path d="M1097.6 2216 L1109.75 2224.75 L1121.9 2228 L1134.05 2231.25 L1146.2 2234.25 L1158.35 2236.25 L1170.5 2239.75 L1182.65 2242.5 L1194.8 2244.75 L1206.95 2247.25 L1219.1 2248.5 L1231.25 2251.75 L1243.4 2254.25 L1255.55 2256 L1267.7 2258 L1279.85 2259.25 L1292 2260 L1304.15 2263 L1316.3 2265.5 L1328.45 2267.25 L1340.6 2268 L1352.75 2270.5 L1364.9 2273.75 L1377.05 2274.75 L1389.2 2275.5" fill="none" stroke="#fb0404" stroke-width="8.8" stroke-linecap="round" stroke-linejoin="round"/>
<path d="M1097.6 2196.75 L1109.75 2205.5 L1121.9 2210.5 L1134.05 2214.25 L1146.2 2218 L1158.35 2220 L1170.5 2223 L1182.65 2226.25 L1194.8 2229.75 L1206.95 2232.25 L1219.1 2233.75 L1231.25 2235.5 L1243.4 2237.5 L1255.55 2240.5 L1267.7 2243 L1279.85 2244.75 L1292 2245 L1304.15 2247.25 L1316.3 2249.75 L1328.45 2251 L1340.6 2253.75 L1352.75 2256.75 L1364.9 2259.25 L1377.05 2260 L1389.2 2261" fill="none" stroke="#0570c4" stroke-width="8.8" stroke-linecap="round" stroke-linejoin="round"/>
<path d="M1093.9 2112.95V2454.65" stroke="#000" stroke-width="4.1" fill="none"/>
<path d="M1073.8 2452.6H1392.65" stroke="#000" stroke-width="4.1" fill="none"/>
<path d="M1073.8 2115H1093.9M1073.8 2227.53H1093.9M1073.8 2340.07H1093.9M1095.4 2452.6V2468M1144.91 2452.6V2468M1194.42 2452.6V2468M1243.93 2452.6V2468M1293.44 2452.6V2468M1342.95 2452.6V2468M1390.6 2452.6V2468" stroke="#000" stroke-width="4.1" fill="none"/>
<text x="1058.5" y="2129.3" text-anchor="end">0.9</text>
<text x="1058.5" y="2241.83" text-anchor="end">0.6</text>
<text x="1058.5" y="2354.37" text-anchor="end">0.3</text>
<text x="1058.5" y="2466.9" text-anchor="end">0</text>
<text x="1094" y="2493.4" text-anchor="middle">0</text>
<text x="1144.51" y="2493.4" text-anchor="middle">4</text>
<text x="1194.02" y="2493.4" text-anchor="middle">8</text>
<text x="1243.53" y="2493.4" text-anchor="middle">12</text>
<text x="1293.04" y="2493.4" text-anchor="middle">16</text>
<text x="1342.55" y="2493.4" text-anchor="middle">20</text>
<text x="1392.06" y="2493.4" text-anchor="middle">24</text>
<text x="1243.3" y="2514.7" text-anchor="middle">Time (hours)</text>
<text transform="translate(1017.7 2323.3) rotate(-90)" font-size="22">OD<tspan font-size="15.5">600</tspan></text>
<path d="M1111.9 2387.25H1182.4" stroke="#0570c4" stroke-width="8.2" fill="none"/>
<path d="M1111.9 2423.15H1182.4" stroke="#fb0404" stroke-width="8.2" fill="none"/>
<text x="1199.7" y="2400.5">Vehicle</text>
<text x="1198.9" y="2436.2">Endolysin</text>
</g>
</svg>
</body></html>
